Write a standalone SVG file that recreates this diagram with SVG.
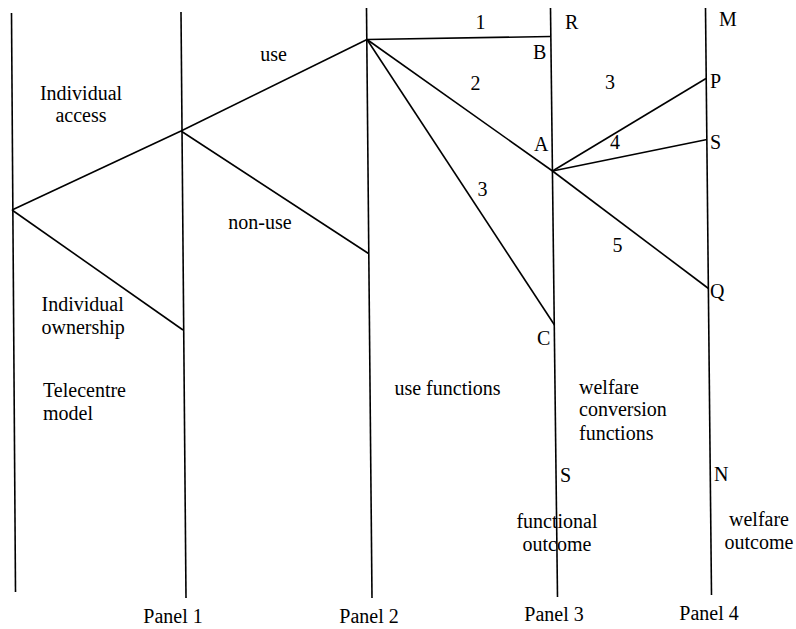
<svg xmlns="http://www.w3.org/2000/svg" width="796" height="629" viewBox="0 0 796 629">
<style>
line{stroke:#000;stroke-width:1.6;fill:none}
text{font-family:"Liberation Serif","Times New Roman",serif;font-size:20px;fill:#000}
.m{text-anchor:middle}
</style>
<rect width="796" height="629" fill="#fff"/>
<g id="panels">
<line x1="11.5" y1="13" x2="15.5" y2="592"/>
<line x1="181" y1="12" x2="186" y2="598"/>
<line x1="366.5" y1="8" x2="372" y2="598"/>
<line x1="550.5" y1="8" x2="557.5" y2="597"/>
<line x1="705.5" y1="8" x2="711.5" y2="595"/>
</g>
<g id="connectors">
<line x1="12" y1="210" x2="181" y2="131"/>
<line x1="181" y1="131" x2="367" y2="39.5"/>
<line x1="12" y1="210" x2="183" y2="330"/>
<line x1="181" y1="131" x2="368.5" y2="253.5"/>
<line x1="367" y1="39.5" x2="550.5" y2="36.5"/>
<line x1="367" y1="39.5" x2="552.5" y2="171"/>
<line x1="367" y1="39.5" x2="554.5" y2="325"/>
<line x1="552.5" y1="171" x2="706" y2="78.5"/>
<line x1="552.5" y1="171" x2="707" y2="139.5"/>
<line x1="552.5" y1="171" x2="708.5" y2="288.5"/>
</g>
<g id="labels">
<text x="81" y="100" class="m">Individual</text>
<text x="81" y="122" class="m">access</text>
<text x="273.5" y="61" class="m">use</text>
<text x="260" y="228.5" class="m">non-use</text>
<text x="41.5" y="311">Individual</text>
<text x="41.5" y="333.5">ownership</text>
<text x="43" y="397">Telecentre</text>
<text x="43" y="420">model</text>
<text x="447.5" y="395" class="m">use functions</text>
<text x="579" y="393.5">welfare</text>
<text x="579" y="416">conversion</text>
<text x="579" y="440">functions</text>
<text x="557" y="528" class="m">functional</text>
<text x="557" y="551" class="m">outcome</text>
<text x="759" y="526" class="m">welfare</text>
<text x="759" y="548.5" class="m">outcome</text>
<text x="173" y="623" class="m">Panel 1</text>
<text x="369" y="623" class="m">Panel 2</text>
<text x="554" y="621" class="m">Panel 3</text>
<text x="709" y="620" class="m">Panel 4</text>
</g>
<g id="points">
<text x="480.5" y="29" class="m">1</text>
<text x="475.5" y="90" class="m">2</text>
<text x="482.5" y="196" class="m">3</text>
<text x="610" y="88.5" class="m">3</text>
<text x="615" y="149" class="m">4</text>
<text x="617.5" y="252" class="m">5</text>
<text x="565" y="28.5">R</text>
<text x="719" y="26">M</text>
<text x="533" y="58.5">B</text>
<text x="534" y="151">A</text>
<text x="537" y="345">C</text>
<text x="710" y="87.5">P</text>
<text x="710" y="148.5">S</text>
<text x="710" y="297.5">Q</text>
<text x="560" y="482">S</text>
<text x="714" y="481">N</text>
</g>
</svg>
